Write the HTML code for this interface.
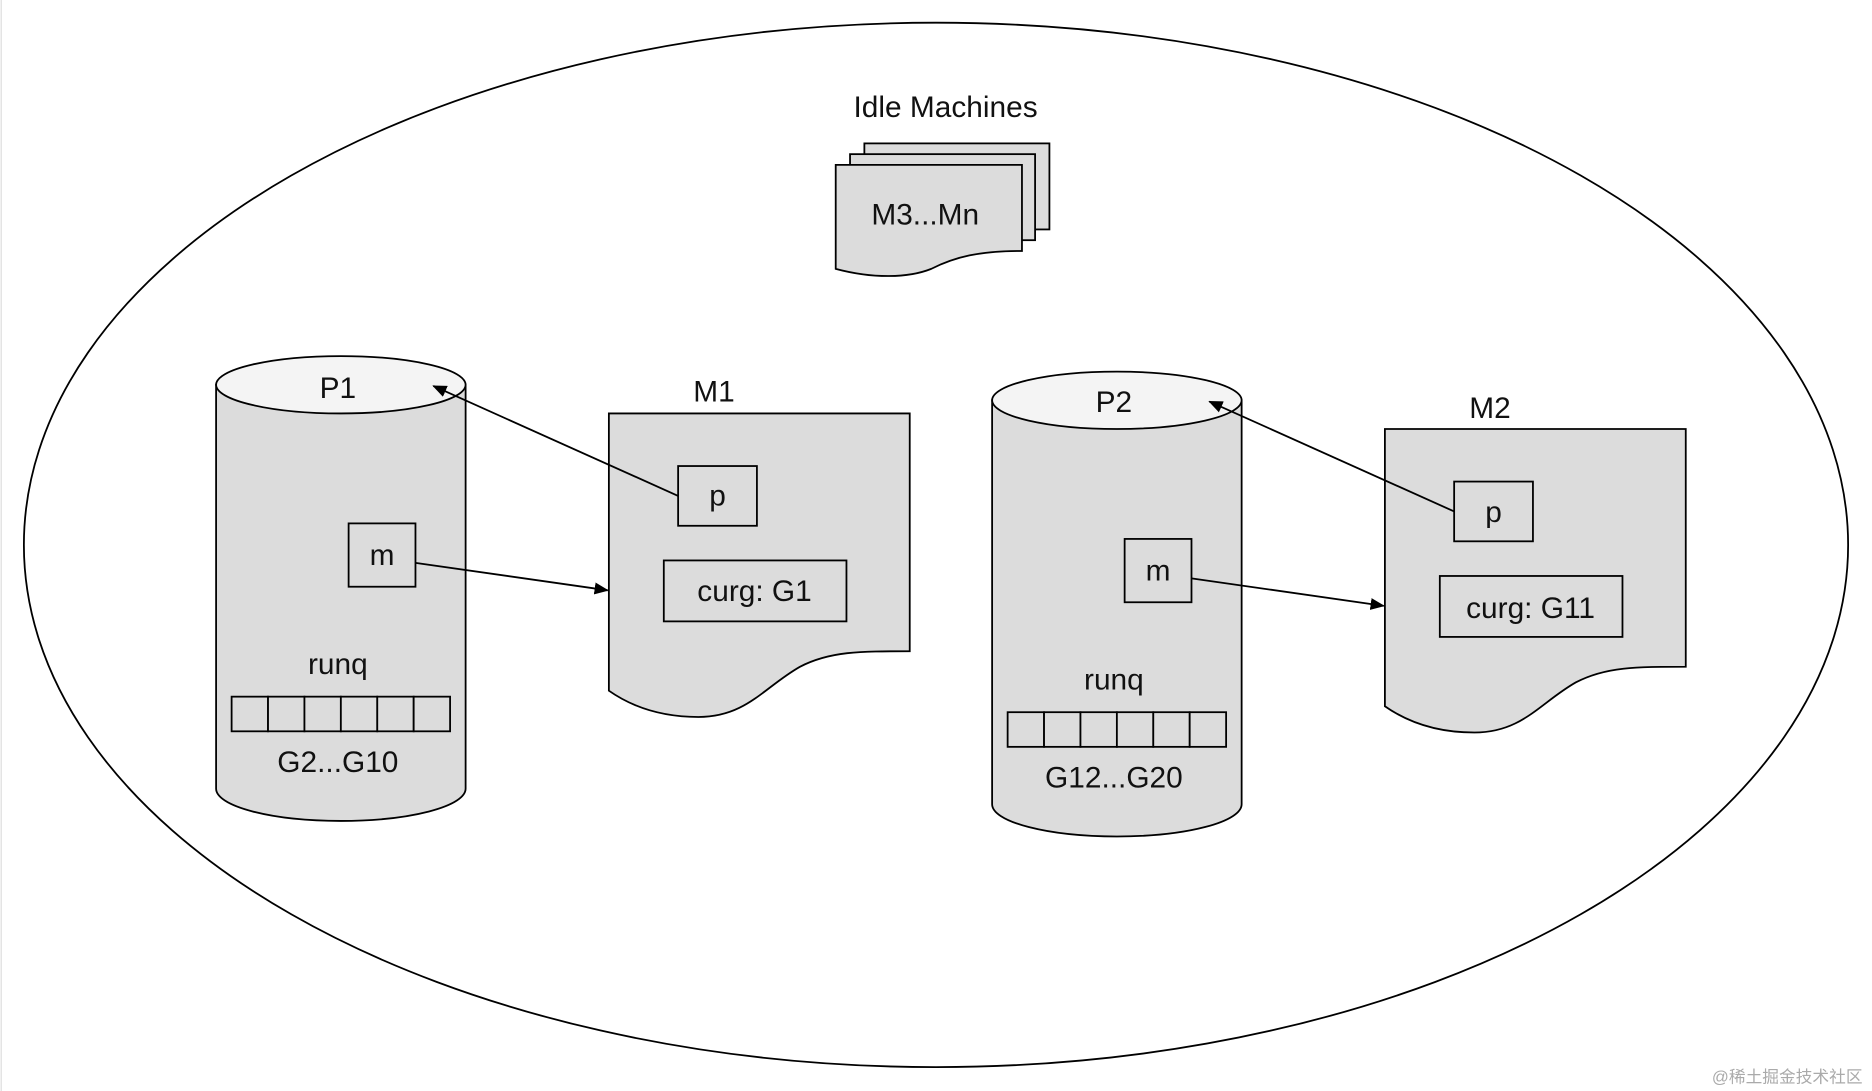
<!DOCTYPE html>
<html><head><meta charset="utf-8"><style>
html,body{margin:0;padding:0;background:#fff;}
svg{display:block;}
text{font-family:"Liberation Sans",sans-serif;font-size:25px;fill:#111;text-anchor:middle;}
</style></head><body>
<svg width="1872" height="1091" viewBox="0 0 1568 913" preserveAspectRatio="none" xmlns="http://www.w3.org/2000/svg">
<defs><marker id="ah" markerWidth="12" markerHeight="10" refX="11" refY="5" orient="auto" markerUnits="userSpaceOnUse"><path d="M0,0 L12,5 L0,10 z" fill="#000"/></marker></defs>
<rect width="1568" height="913" fill="#fff"/>
<line x1="1" y1="0" x2="1" y2="913" stroke="#ddd"/>
<ellipse cx="784" cy="456" rx="764" ry="437" fill="none" stroke="#000" stroke-width="1.5"/>
<text x="792" y="98">Idle Machines</text>
<g stroke="#000" stroke-width="1.5" fill="#dcdcdc">
<rect x="724" y="120" width="155" height="72"/>
<rect x="712" y="129" width="155" height="72"/>
<path d="M700,138 H856 V210 C820,210 800,215 780,225 C760,233 730,233 700,225 Z"/>
</g>
<text x="775" y="188">M3...Mn</text>

<g id="grp">
<path d="M181,322 V660 A104.5,27 0 0 0 390,660 V322 Z" fill="#dcdcdc" stroke="#000" stroke-width="1.5"/>
<ellipse cx="285.5" cy="322" rx="104.5" ry="24" fill="#f4f4f4" stroke="#000" stroke-width="1.5"/>
<path d="M510,346 H762 V545 C720,545 695,545 670,558 C640,575 625,600 585,600 C555,600 530,592 510,578 Z" fill="#dcdcdc" stroke="#000" stroke-width="1.5"/>
<rect x="568" y="390" width="66" height="50" fill="#dcdcdc" stroke="#000" stroke-width="1.5"/>
<rect x="556" y="469" width="153" height="51" fill="#dcdcdc" stroke="#000" stroke-width="1.5"/>
<rect x="292" y="438" width="56" height="53" fill="#dcdcdc" stroke="#000" stroke-width="1.5"/>
<g fill="#dcdcdc" stroke="#000" stroke-width="1.5">
<rect x="194" y="583" width="30.5" height="29"/><rect x="224.5" y="583" width="30.5" height="29"/><rect x="255" y="583" width="30.5" height="29"/><rect x="285.5" y="583" width="30.5" height="29"/><rect x="316" y="583" width="30.5" height="29"/><rect x="346.5" y="583" width="30.5" height="29"/>
</g>
<line x1="348" y1="471" x2="509" y2="494" stroke="#000" stroke-width="1.5" marker-end="url(#ah)"/>
<line x1="568" y1="415" x2="363" y2="323" stroke="#000" stroke-width="1.5" marker-end="url(#ah)"/>
</g>
<text x="283" y="333">P1</text>
<text x="598" y="336">M1</text>
<text x="601" y="423">p</text>
<text x="632" y="503">curg: G1</text>
<text x="320" y="473">m</text>
<text x="283" y="564">runq</text>
<text x="283" y="646">G2...G10</text>

<use href="#grp" transform="translate(650,13)"/>
<text x="933" y="345">P2</text>
<text x="1248" y="350">M2</text>
<text x="1251" y="437">p</text>
<text x="1282" y="517">curg: G11</text>
<text x="970" y="486">m</text>
<text x="933" y="577">runq</text>
<text x="933" y="659">G12...G20</text>
<text x="1497" y="906" style="font-size:14px;fill:#aaa;font-family:'Liberation Sans','Noto Sans CJK SC',sans-serif">@稀土掘金技术社区</text>
</svg>
</body></html>
